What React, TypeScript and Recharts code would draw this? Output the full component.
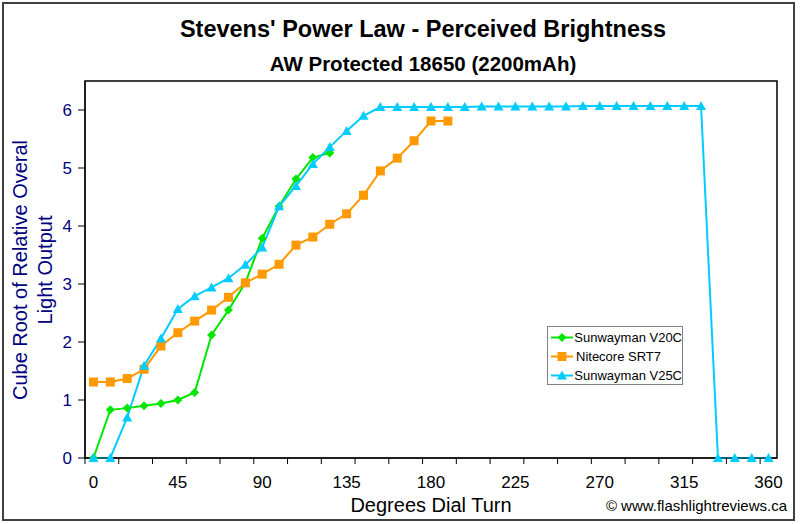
import React from "react";
import { LineChart, Line, XAxis, YAxis, ReferenceArea } from "recharts";

// dial position (degrees) for every reading, one every 9 degrees
const degrees = [
  0, 9, 18, 27, 36, 45, 54, 63, 72, 81, 90, 99, 108, 117, 126, 135, 144, 153, 162, 171, 180, 189, 198, 207,
  216, 225, 234, 243, 252, 261, 270, 279, 288, 297, 306, 315, 324, 333, 342, 351, 360,
];

const v20c = [0, 0.83, 0.86, 0.9, 0.94, 1.0, 1.13, 2.12, 2.55, 3.02, 3.79, 4.34, 4.81, 5.18, 5.26];

const srt7 = [
  1.31, 1.31, 1.37, 1.53, 1.93, 2.16, 2.36, 2.55, 2.77, 3.02, 3.17, 3.34, 3.67, 3.81, 4.03, 4.21, 4.53, 4.95,
  5.17, 5.47, 5.81, 5.81,
];

const v25c = [
  0, 0, 0.7, 1.59, 2.06, 2.57, 2.79, 2.94, 3.1, 3.33, 3.63, 4.34, 4.69, 5.07, 5.36, 5.64, 5.9, 6.05, 6.05, 6.05,
  6.05, 6.05, 6.05, 6.06, 6.06, 6.06, 6.06, 6.06, 6.06, 6.07, 6.07, 6.07, 6.07, 6.07, 6.07, 6.07, 6.07, 0, 0, 0,
  0,
];

const xLabels = [0, 45, 90, 135, 180, 225, 270, 315, 360];
// tick marks sit between categories, every second one
const xTickMarks = [
  -4.5, 13.5, 31.5, 49.5, 67.5, 85.5, 103.5, 121.5, 139.5, 157.5, 175.5, 193.5, 211.5, 229.5, 247.5, 265.5, 283.5,
  301.5, 319.5, 337.5, 355.5,
];
const yTicks = [0, 1, 2, 3, 4, 5, 6];

const FONT = "'Liberation Sans', Arial, sans-serif";
const NAVY = "#000080";

const toPoints = (vals: number[]) => vals.map((v, i) => ({ deg: degrees[i], value: v }));

const Diamond = ({ cx, cy, fill }: any) => {
  if (cx == null || cy == null) return null;
  const r = 4.5;
  return <path d={`M${cx},${cy - r}L${cx + r},${cy}L${cx},${cy + r}L${cx - r},${cy}Z`} fill={fill} />;
};

const Square = ({ cx, cy, fill }: any) => {
  if (cx == null || cy == null) return null;
  return <rect x={cx - 4.5} y={cy - 4.5} width={9} height={9} fill={fill} />;
};

const Triangle = ({ cx, cy, fill }: any) => {
  if (cx == null || cy == null) return null;
  return <path d={`M${cx},${cy - 5}L${cx + 5},${cy + 4}L${cx - 5},${cy + 4}Z`} fill={fill} />;
};

const series = [
  { name: "Sunwayman V20C", color: "#00E600", data: toPoints(v20c), Mark: Diamond },
  { name: "Nitecore SRT7", color: "#FF9900", data: toPoints(srt7), Mark: Square },
  { name: "Sunwayman V25C", color: "#00CCFF", data: toPoints(v25c), Mark: Triangle },
];

const XTick = ({ x, y, payload }: any) => {
  const v = payload.value;
  if (xLabels.includes(v)) {
    return (
      <text x={x} y={y + 30} textAnchor="middle" fontSize={17} fontFamily={FONT} fill="#000">
        {v}
      </text>
    );
  }
  return <line x1={x} x2={x} y1={y} y2={y + 6} stroke="#000" strokeWidth={1} />;
};

const LegendBox = () => (
  <div
    style={{
      position: "absolute",
      left: 547,
      top: 326,
      border: "1px solid #808080",
      background: "#fff",
      width: 134,
      height: 56,
      boxSizing: "content-box",
      paddingTop: 1,
    }}
  >
    {series.map((s) => (
      <div key={s.name} style={{ display: "flex", alignItems: "center", height: 19 }}>
        <svg width={28} height={19}>
          <line x1={3} x2={25} y1={9.5} y2={9.5} stroke={s.color} strokeWidth={2} />
          <s.Mark cx={14} cy={9.5} fill={s.color} />
        </svg>
        <span style={{ fontFamily: FONT, fontSize: 13, color: "#000", whiteSpace: "nowrap" }}>{s.name}</span>
      </div>
    ))}
  </div>
);

export default function App() {
  return (
    <div style={{ position: "relative", width: 800, height: 524, background: "#fff" }}>
      <style>{"body{margin:0}"}</style>
      <LineChart width={800} height={524} margin={{ top: 81, right: 23, bottom: 36, left: 0 }}>
        <XAxis
          dataKey="deg"
          type="number"
          domain={[-4.5, 364.5]}
          ticks={[...xTickMarks, ...xLabels].sort((a, b) => a - b)}
          interval={0}
          tick={<XTick />}
          tickLine={false}
          tickSize={0}
          tickMargin={0}
          height={30}
          axisLine={{ stroke: "#000", strokeWidth: 1 }}
          allowDuplicatedCategory={false}
        />
        <YAxis
          type="number"
          domain={[0, 6.5]}
          ticks={yTicks}
          width={85}
          tickSize={7}
          tickMargin={6}
          tick={{ fill: NAVY, fontSize: 17, fontFamily: FONT }}
          tickLine={{ stroke: "#000" }}
          axisLine={{ stroke: "#000", strokeWidth: 1 }}
        />
        <ReferenceArea x1={-4.5} x2={364.5} y1={0} y2={6.5} fill="none" stroke="#000" strokeWidth={1.5} />
        {series.map((s) => (
          <Line
            key={s.name}
            data={s.data}
            dataKey="value"
            name={s.name}
            type="linear"
            stroke={s.color}
            strokeWidth={2}
            dot={<s.Mark fill={s.color} />}
            activeDot={false}
            isAnimationActive={false}
          />
        ))}
      </LineChart>
      <LegendBox />
      <svg
        width={800}
        height={524}
        style={{ position: "absolute", left: 0, top: 0, pointerEvents: "none" }}
      >
        <rect x={3} y={3} width={791} height={517} fill="none" stroke="#404040" strokeWidth={2} />
        <text x={423} y={37} textAnchor="middle" fontFamily={FONT} fontSize={23.5} fontWeight="bold" fill="#000">
          Stevens' Power Law - Perceived Brightness
        </text>
        <text x={423} y={71} textAnchor="middle" fontFamily={FONT} fontSize={20.5} fontWeight="bold" fill="#000">
          AW Protected 18650 (2200mAh)
        </text>
        <text
          transform="translate(27,270) rotate(-90)"
          textAnchor="middle"
          fontFamily={FONT}
          fontSize={20}
          fill={NAVY}
        >
          Cube Root of Relative Overal
        </text>
        <text
          transform="translate(52,270) rotate(-90)"
          textAnchor="middle"
          fontFamily={FONT}
          fontSize={20}
          fill={NAVY}
        >
          Light Output
        </text>
        <text x={431} y={512} textAnchor="middle" fontFamily={FONT} fontSize={20} fill="#000">
          Degrees Dial Turn
        </text>
        <text x={787} y={511} textAnchor="end" fontFamily={FONT} fontSize={15} fill="#000">
          © www.flashlightreviews.ca
        </text>
      </svg>
    </div>
  );
}
